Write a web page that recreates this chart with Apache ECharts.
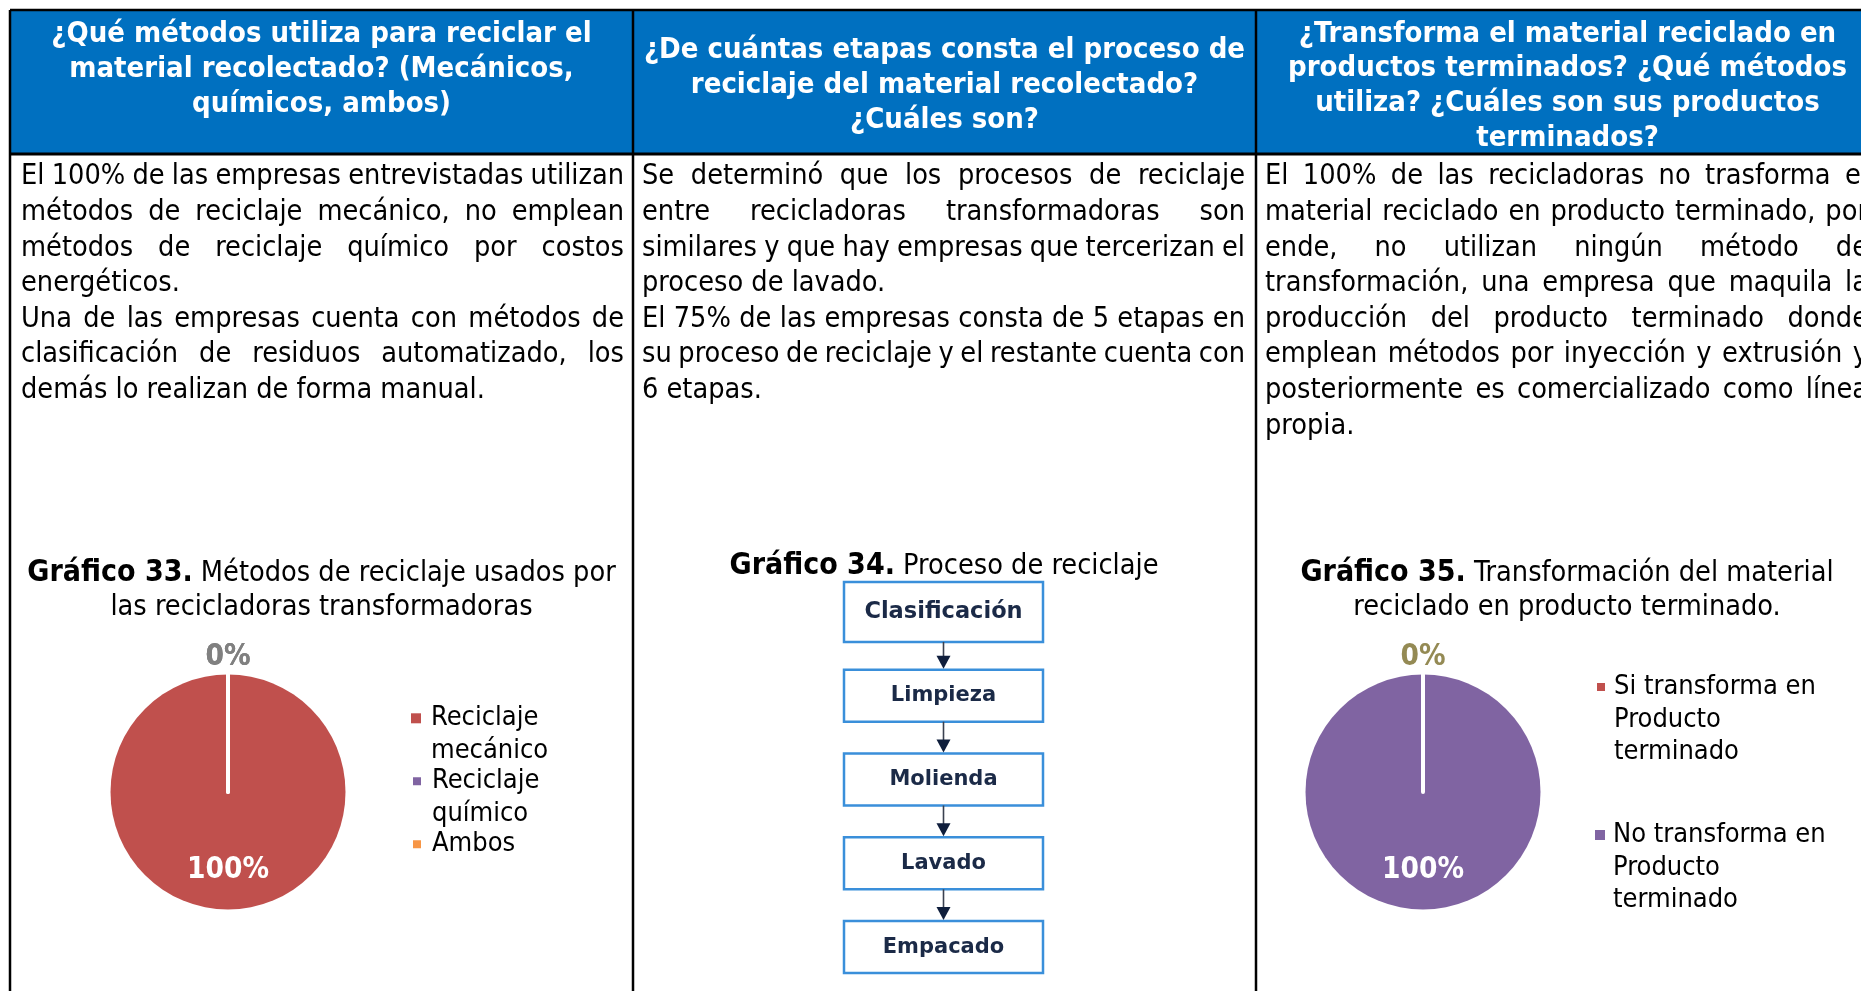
<!DOCTYPE html>
<html><head><meta charset="utf-8">
<script src="https://cdn.jsdelivr.net/npm/echarts@6/dist/echarts.min.js"></script>
<style>html,body{margin:0;padding:0;background:#fff}#c{width:1861px;height:991px}</style>
</head><body><div id="c"></div>
<script>
// ---------- data ----------
const headers = [
  ['¿Qué métodos utiliza para reciclar el', 'material recolectado? (Mecánicos,', 'químicos, ambos)'],
  ['¿De cuántas etapas consta el proceso de', 'reciclaje del material recolectado?', '¿Cuáles son?'],
  ['¿Transforma el material reciclado en', 'productos terminados? ¿Qué métodos', 'utiliza? ¿Cuáles son sus productos', 'terminados?']
];
const texto1 = [
  ['El 100% de las empresas entrevistadas utilizan', 'métodos de reciclaje mecánico, no emplean', 'métodos de reciclaje químico por costos', 'energéticos.'],
  ['Una de las empresas cuenta con métodos de', 'clasificación de residuos automatizado, los', 'demás lo realizan de forma manual.']
];
const texto2 = [
  ['Se determinó que los procesos de reciclaje', 'entre recicladoras transformadoras son', 'similares y que hay empresas que tercerizan el', 'proceso de lavado.'],
  ['El 75% de las empresas consta de 5 etapas en', 'su proceso de reciclaje y el restante cuenta con', '6 etapas.']
];
const texto3 = [
  ['El 100% de las recicladoras no trasforma el', 'material reciclado en producto terminado, por', 'ende, no utilizan ningún método de', 'transformación, una empresa que maquila la', 'producción del producto terminado donde', 'emplean métodos por inyección y extrusión y', 'posteriormente es comercializado como línea', 'propia.']
];
const titulo33 = ['Gráfico 33.', ' Métodos de reciclaje usados por', 'las recicladoras transformadoras'];
const titulo34 = ['Gráfico 34.', ' Proceso de reciclaje'];
const titulo35 = ['Gráfico 35.', ' Transformación del material', 'reciclado en producto terminado.'];

const metodosCats = ['Reciclaje\nmecánico', 'Reciclaje\nquímico', 'Ambos'];
const metodosVals = [100, 0, 0];
const etapas = ['Clasificación', 'Limpieza', 'Molienda', 'Lavado', 'Empacado'];
const transfCats = ['Si transforma en\nProducto\nterminado', 'No transforma en\nProducto\nterminado'];
const transfVals = [0, 100];

// ---------- styling ----------
const FONT = '"DejaVu Sans Condensed", "DejaVu Sans", sans-serif';
const BODY_FONT = '28.6px ' + FONT;
const HEAD_FONT = 'bold 29px ' + FONT;
const metodosColors = ['#C0504D', '#8064A2', '#F79646'];
const transfColors = ['#C0504D', '#8064A2'];

const mctx = document.createElement('canvas').getContext('2d');
function tw(s, font) { mctx.font = font; return mctx.measureText(s).width; }

const els = [];
// table frame
els.push({type: 'rect', shape: {x: 10, y: 10, width: 1851, height: 144}, style: {fill: '#0070C0'}});
const lineSt = {stroke: '#000', lineWidth: 2.5};
els.push({type: 'line', shape: {x1: 10, y1: 10, x2: 1861, y2: 10}, style: lineSt});
els.push({type: 'line', shape: {x1: 10, y1: 154, x2: 1861, y2: 154}, style: {stroke: '#000', lineWidth: 3}});
[10, 633, 1256].forEach(x => els.push({type: 'line', shape: {x1: x, y1: 10, x2: x, y2: 991}, style: lineSt}));

// headers
const colCenters = [321.5, 944.5, 1567.5];
const headFirstY = [34.5, 50.5, 34];
headers.forEach((lines, c) => {
  lines.forEach((t, i) => {
    els.push({type: 'text', style: {text: t, x: colCenters[c], y: headFirstY[c] + i * 34.8, align: 'center', verticalAlign: 'middle', font: HEAD_FONT, fill: '#fff'}});
  });
});

// justified body text
function bodyText(paras, x0, x1, y0, lh) {
  let row = 0;
  paras.forEach(p => {
    p.forEach((ln, i) => {
      const y = y0 + row * lh;
      row++;
      const last = i === p.length - 1;
      if (last) {
        els.push({type: 'text', style: {text: ln, x: x0, y, verticalAlign: 'middle', font: BODY_FONT, fill: '#000'}});
        return;
      }
      const words = ln.split(' ');
      const ws = words.map(w => tw(w, BODY_FONT));
      const sum = ws.reduce((a, b) => a + b, 0);
      const gap = (x1 - x0 - sum) / (words.length - 1);
      let x = x0;
      words.forEach((w, k) => {
        els.push({type: 'text', style: {text: w, x, y, verticalAlign: 'middle', font: BODY_FONT, fill: '#000'}});
        x += ws[k] + gap;
      });
    });
  });
}
bodyText(texto1, 21, 624, 177, 35.6);
bodyText(texto2, 642, 1245, 177, 35.6);
bodyText(texto3, 1265, 1868, 177, 35.6);

// chart titles
const richT = {
  b: {fontWeight: 'bold', fontSize: 30, fontFamily: FONT, fill: '#000'},
  r: {fontSize: 28.6, fontFamily: FONT, fill: '#000'}
};
function title(t, cx, y) {
  els.push({type: 'text', style: {text: '{b|' + t[0] + '}{r|' + t[1] + '}', rich: richT, x: cx, y, align: 'center', verticalAlign: 'middle'}});
  if (t[2]) els.push({type: 'text', style: {text: '{r|' + t[2] + '}', rich: richT, x: cx, y: y + 34.5, align: 'center', verticalAlign: 'middle'}});
}
title(titulo33, 321.5, 573.5);
title(titulo34, 944, 566.5);
title(titulo35, 1567, 573.5);

// ---------- legends ----------
const LH = 32.5;
function legendItem(name, left, firstLineY, padLeft) {
  const n = name.split('\n').length;
  return {
    data: [name], orient: 'vertical', left, top: firstLineY - (2 * n - 1) * LH / 2,
    padding: 0, itemWidth: 10, itemHeight: 10, icon: 'rect', selectedMode: false,
    // leading empty lines keep the marker level with the first text line
    formatter: nm => '\n'.repeat(n - 1) + nm,
    textStyle: {fontSize: 27, fontFamily: FONT, color: '#000', lineHeight: LH, padding: [0, 0, 0, padLeft]}
  };
}
const legends = [
  legendItem(metodosCats[0], 411, 718.3, 5),
  legendItem(metodosCats[1], 411, 781.3, 5),
  legendItem(metodosCats[2], 411, 844.3, 5),
  legendItem(transfCats[0], 1595, 687, 3),
  legendItem(transfCats[1], 1595, 835, 3)
];

// ---------- pies ----------
function pieData(cats, vals, colors) {
  return cats.map((n, i) => ({
    name: n, value: vals[i],
    itemStyle: vals[i] > 0 ? {color: colors[i]} : {color: colors[i], borderColor: '#fff', borderWidth: 4}
  }));
}
function pieSeries(center, data, zeroColor) {
  return {
    type: 'pie', center, radius: 117.5, startAngle: 90, clockwise: true,
    avoidLabelOverlap: false, silent: true, emphasis: {disabled: true},
    label: {
      show: true, position: 'inside', fontSize: 29.5, fontWeight: 'bold', fontFamily: FONT,
      formatter: p => Math.round(p.percent) + '%',
      color: '#fff'
    },
    // move the 100% label lower in the slice and the 0% labels above the pie
    labelLayout: p => {
      const r = p.labelRect;
      return {y: r.y + r.height / 2 + (data[p.dataIndex].value > 0 ? 17 : -73)};
    },
    labelLine: {show: false},
    data: data.map(d => d.value > 0 ? d : Object.assign({}, d, {label: {color: zeroColor}}))
  };
}
// the full slice is drawn first so the zero-slice edge shows on top
const d33 = pieData(metodosCats, metodosVals, metodosColors);
const d35 = pieData(transfCats, transfVals, transfColors).sort((a, b) => b.value - a.value);

const option = {
  animation: false,
  backgroundColor: '#fff',
  graphic: els,
  legend: legends,
  grid: {left: 844, top: 570, width: 199, height: 419},
  xAxis: {type: 'value', min: 0, max: 1, show: false},
  yAxis: {type: 'category', data: etapas, inverse: true, show: false},
  series: [
    pieSeries([228, 792], d33, '#808080'),
    pieSeries([1423, 792], d35, '#948A54'),
    {
      type: 'custom', coordinateSystem: 'cartesian2d', silent: true,
      data: etapas.map(e => [0.5, e]),
      encode: {x: 0, y: 1},
      renderItem: (params, api) => {
        const i = api.value(1);
        const c = api.coord([api.value(0), i]);
        const w = api.size([1, 0])[0];
        const hOf = k => (k === 0 ? 60 : 52);
        const h = hOf(i);
        const kids = [
          {type: 'rect', shape: {x: c[0] - w / 2, y: c[1] - h / 2, width: w, height: h}, style: {fill: '#fff', stroke: '#3A8FDA', lineWidth: 2.5}},
          {type: 'text', style: {text: etapas[i], x: c[0], y: c[1], align: 'center', verticalAlign: 'middle', font: 'bold ' + (i === 0 ? 22.5 : 21) + 'px "DejaVu Sans", sans-serif', fill: '#1B2A47'}}
        ];
        if (i > 0) {
          const p = api.coord([api.value(0), i - 1]);
          const y0 = p[1] + hOf(i - 1) / 2;
          const y1 = c[1] - h / 2;
          kids.push({type: 'line', shape: {x1: c[0], y1: y0, x2: c[0], y2: y1 - 12}, style: {stroke: '#3A4150', lineWidth: 1.6}});
          kids.push({type: 'polygon', shape: {points: [[c[0] - 7, y1 - 14], [c[0] + 7, y1 - 14], [c[0], y1 - 1]]}, style: {fill: '#0F1E3C'}});
        }
        return {type: 'group', children: kids};
      }
    }
  ]
};
const chart = echarts.init(document.getElementById('c'));
chart.setOption(option);
</script>
</body></html>
